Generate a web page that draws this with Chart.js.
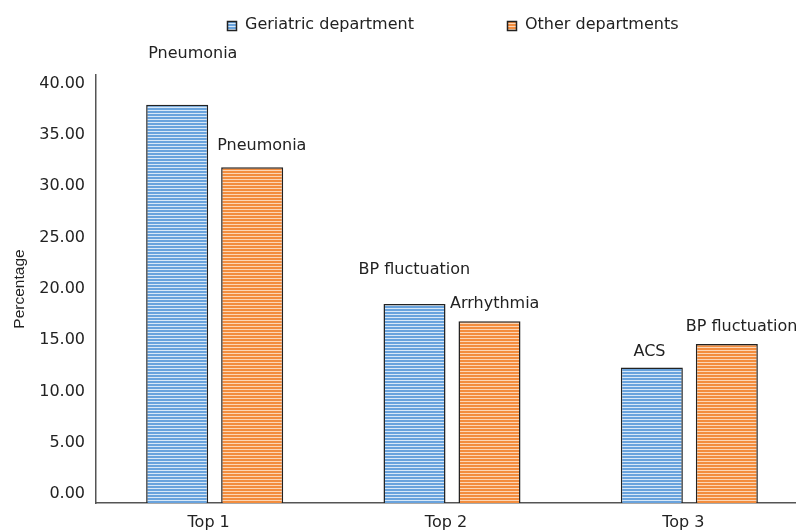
<!DOCTYPE html>
<html>
<head>
<meta charset="utf-8">
<script src="https://cdn.jsdelivr.net/npm/chart.js@4/dist/chart.umd.min.js"></script>
<style>
  html, body { margin: 0; padding: 0; background: #fff; overflow: hidden; }
  #wrap { width: 812px; height: 532px; }
</style>
</head>
<body>
<div id="wrap"><canvas id="chart" width="812" height="532"></canvas></div>
<script>
// data
const categories = ['Top 1', 'Top 2', 'Top 3'];
const geriatricValues = [38.8, 19.4, 13.2];
const otherValues = [32.7, 17.7, 15.5];
const geriatricCauses = ['Pneumonia', 'BP fluctuation', 'ACS'];
const otherCauses = ['Pneumonia', 'Arrhythmia', 'BP fluctuation'];
const yTickValues = [0, 5, 10, 15, 20, 25, 30, 35, 40];

// where each cause label sits, relative to its bar (left of text, baseline above bar top)
const geriatricLabelPos = [[-29, 46.5], [-56, 30.3], [-18.3, 11.7]];
const otherLabelPos = [[-35, 17], [-39.5, 13], [-41, 13.3]];

Chart.defaults.font.family = "'DejaVu Sans', sans-serif";
Chart.defaults.font.size = 16;
Chart.defaults.color = '#222';

// horizontal stripe fill, like the original
function stripes(dark, light) {
  const c = document.createElement('canvas');
  c.width = 4;
  c.height = 3;
  const g = c.getContext('2d');
  g.fillStyle = dark;
  g.fillRect(0, 0, 4, 3);
  g.fillStyle = light;
  g.fillRect(0, 2, 4, 1);
  return g.createPattern(c, 'repeat');
}
const blueFill = stripes('#69a3dd', '#d8e8f7');
const orangeFill = stripes('#f38d3e', '#fcd6b6');

const causeLabels = {
  id: 'causeLabels',
  afterDatasetsDraw(chart) {
    const ctx = chart.ctx;
    const sets = [[geriatricCauses, geriatricLabelPos], [otherCauses, otherLabelPos]];
    ctx.save();
    ctx.font = "16px 'DejaVu Sans', sans-serif";
    ctx.fillStyle = '#222';
    ctx.textAlign = 'left';
    ctx.textBaseline = 'alphabetic';
    sets.forEach(([texts, pos], di) => {
      chart.getDatasetMeta(di).data.forEach((bar, i) => {
        ctx.fillText(texts[i], bar.x + pos[i][0], bar.y - pos[i][1]);
      });
    });
    ctx.restore();
  }
};

const topLegend = {
  id: 'topLegend',
  afterDraw(chart) {
    const ctx = chart.ctx;
    const boxX = [227, 507];
    ctx.save();
    ctx.font = "16px 'DejaVu Sans', sans-serif";
    ctx.textBaseline = 'alphabetic';
    chart.data.datasets.forEach((ds, i) => {
      ctx.fillStyle = ds.backgroundColor;
      ctx.fillRect(boxX[i], 21, 10, 10);
      ctx.strokeStyle = '#222';
      ctx.lineWidth = 1.5;
      ctx.strokeRect(boxX[i] + 0.5, 21.5, 9, 9);
      ctx.fillStyle = '#222';
      ctx.fillText(ds.label, boxX[i] + 18, 29);
    });
    ctx.restore();
  }
};

new Chart(document.getElementById('chart'), {
  type: 'bar',
  data: {
    labels: categories,
    datasets: [
      {
        label: 'Geriatric department',
        data: geriatricValues,
        backgroundColor: blueFill,
        borderColor: '#222',
        borderWidth: 1.5
      },
      {
        label: 'Other departments',
        data: otherValues,
        backgroundColor: orangeFill,
        borderColor: '#222',
        borderWidth: 1.5
      }
    ]
  },
  options: {
    responsive: false,
    animation: false,
    categoryPercentage: 0.632,
    barPercentage: 0.827,
    layout: { padding: { top: 75, right: 4, left: 0, bottom: 0 } },
    plugins: {
      legend: { display: false },
      tooltip: { enabled: false }
    },
    scales: {
      x: {
        grid: { display: false, drawTicks: false },
        border: { display: true, color: '#555', width: 1.5 },
        ticks: { padding: 10, labelOffset: -6, maxRotation: 0 },
        afterFit(scale) { scale.height = 29; }
      },
      y: {
        min: 0,
        max: 41.7,
        grid: { display: false, drawTicks: false },
        border: { display: true, color: '#555', width: 1.5 },
        afterBuildTicks(scale) {
          scale.ticks = yTickValues.map(v => ({ value: v }));
        },
        ticks: {
          padding: 11,
          labelOffset: -9,
          callback: v => v.toFixed(2)
        },
        title: {
          display: true,
          text: 'Percentage',
          font: { family: "'Liberation Sans', Arial, sans-serif", size: 15.5 },
          padding: { top: 10, bottom: 0 }
        },
        afterFit(scale) { scale.width = 96; }
      }
    }
  },
  plugins: [causeLabels, topLegend]
});
</script>
</body>
</html>
